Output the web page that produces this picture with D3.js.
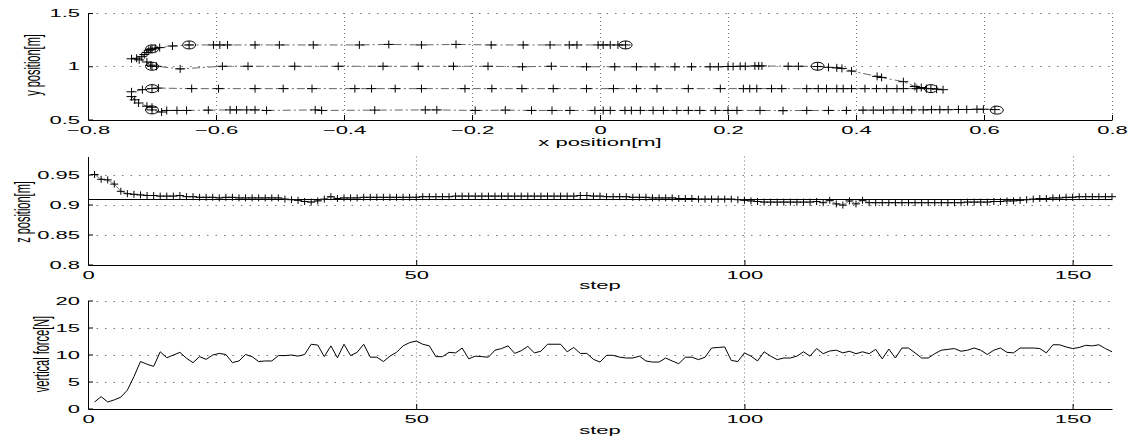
<!DOCTYPE html>
<html>
<head>
<meta charset="UTF-8" />
<style>
  body { margin: 0; background: #fff; }
  svg { display: block; font-family: "Liberation Sans", Arial, sans-serif; }
  .gridx line { stroke: #777; stroke-width: 1px; stroke-dasharray: 1,3; }
  .gridy line { stroke: #777; stroke-width: 1px; stroke-dasharray: 1.5,7; }
  .trail { fill: none; stroke: #666; stroke-width: 1px; stroke-dasharray: 8,3,2,3; }
  .zline { fill: none; stroke: #888; stroke-width: 1px; }
  .zref { stroke: #000; stroke-width: 1px; }
  .fline { fill: none; stroke: #000; stroke-width: 1px; }
  .plus { fill: none; stroke: #000; stroke-width: 1px; }
  .wp { fill: none; stroke: #000; stroke-width: 1px; }
</style>
<script src="https://d3js.org/d3.v7.min.js"></script>
</head>
<body>
<svg width="1133" height="442"></svg>
<script>
// hand path in the horizontal plane (x, y) - one sample per step
var pathX = [
  0.040, 0.028, 0.016, 0.005, -0.003, -0.036, -0.048, -0.078, -0.120, -0.170, -0.225,
  -0.279, -0.330, -0.376, -0.448, -0.501, -0.539, -0.582, -0.594, -0.604, -0.642,
  -0.668, -0.688, -0.695, -0.700, -0.702, -0.705, -0.708, -0.712, -0.716, -0.724,
  -0.732, -0.720, -0.708, -0.702, -0.700,
  -0.693, -0.656, -0.590, -0.550, -0.477, -0.409, -0.339, -0.284, -0.229, -0.175,
  -0.121, -0.076, -0.021, 0.023, 0.057, 0.086, 0.117, 0.143, 0.172, 0.185, 0.200,
  0.208, 0.219, 0.227, 0.242, 0.248, 0.253, 0.294, 0.310, 0.340,
  0.357, 0.370, 0.378, 0.393, 0.433, 0.440, 0.474, 0.492, 0.502, 0.517, 0.526, 0.536,
  0.510, 0.495, 0.474, 0.464, 0.448, 0.432, 0.414, 0.393, 0.380, 0.370, 0.354, 0.341,
  0.323, 0.284, 0.268, 0.245, 0.234, 0.224, 0.188, 0.138, 0.089, 0.057, 0.021,
  -0.021, -0.073, -0.122, -0.169, -0.211, -0.279, -0.320, -0.357, -0.383, -0.450,
  -0.495, -0.539, -0.596, -0.638, -0.690, -0.700,
  -0.715, -0.732, -0.732, -0.727, -0.721, -0.708, -0.700, -0.700,
  -0.685, -0.677, -0.661, -0.646, -0.612, -0.578, -0.568, -0.552, -0.539, -0.521,
  -0.445, -0.435, -0.352, -0.273, -0.255, -0.195, -0.148, -0.107, -0.075, -0.047,
  -0.008, 0.005, 0.016, 0.039, 0.049, 0.063, 0.083, 0.099, 0.120, 0.138, 0.156,
  0.180, 0.200, 0.214, 0.250, 0.286, 0.323, 0.357, 0.385, 0.411, 0.427, 0.443,
  0.458, 0.474, 0.487, 0.505, 0.518, 0.531, 0.544, 0.560, 0.573, 0.589, 0.599, 0.617
];
var pathY = [
  1.200, 1.200, 1.200, 1.200, 1.200, 1.200, 1.200, 1.200, 1.200, 1.200, 1.205,
  1.200, 1.205, 1.200, 1.200, 1.200, 1.200, 1.200, 1.200, 1.200, 1.200,
  1.190, 1.175, 1.170, 1.163, 1.158, 1.150, 1.130, 1.110, 1.090, 1.075,
  1.070, 1.060, 1.040, 1.010, 1.000,
  1.000, 0.975, 1.000, 1.000, 1.000, 1.000, 1.000, 1.000, 1.000, 1.000,
  0.995, 1.000, 0.995, 0.995, 0.995, 0.995, 0.995, 0.995, 0.995, 0.995, 0.998,
  0.998, 1.000, 1.000, 1.003, 1.003, 1.003, 1.000, 1.000, 0.998,
  0.990, 0.985, 0.980, 0.955, 0.905, 0.895, 0.855, 0.810, 0.800, 0.790, 0.785, 0.780,
  0.790, 0.790, 0.790, 0.790, 0.790, 0.790, 0.790, 0.790, 0.790, 0.790, 0.790, 0.790,
  0.790, 0.790, 0.790, 0.790, 0.790, 0.790, 0.790, 0.790, 0.790, 0.790, 0.790,
  0.790, 0.790, 0.790, 0.790, 0.790, 0.790, 0.790, 0.790, 0.790, 0.790,
  0.790, 0.790, 0.790, 0.790, 0.795, 0.790,
  0.780, 0.760, 0.715, 0.685, 0.655, 0.625, 0.615, 0.590,
  0.570, 0.585, 0.585, 0.585, 0.588, 0.590, 0.590, 0.590, 0.590, 0.585,
  0.590, 0.585, 0.588, 0.590, 0.590, 0.585, 0.588, 0.585, 0.585, 0.585,
  0.585, 0.585, 0.585, 0.585, 0.585, 0.585, 0.585, 0.585, 0.585, 0.585, 0.585,
  0.585, 0.585, 0.585, 0.585, 0.583, 0.585, 0.585, 0.585, 0.588, 0.588, 0.588,
  0.590, 0.590, 0.590, 0.590, 0.592, 0.592, 0.592, 0.594, 0.594, 0.596, 0.596, 0.593
];
// via points (circles)
var wayX = [0.040, -0.642, -0.700, -0.700, 0.340, 0.517, -0.700, -0.700, 0.620];
var wayY = [1.200, 1.200, 1.163, 1.000, 1.000, 0.790, 0.790, 0.590, 0.588];

// z position per step (steps 1..156)
var zPos = [
  0.950, 0.942, 0.941, 0.934, 0.922, 0.918, 0.917, 0.916, 0.915, 0.915,
  0.914, 0.914, 0.914, 0.915, 0.913, 0.913, 0.912, 0.912, 0.912, 0.911,
  0.912, 0.912, 0.911, 0.911, 0.911, 0.911, 0.911, 0.911, 0.911, 0.909,
  0.908, 0.907, 0.905, 0.904, 0.906, 0.909, 0.913, 0.910, 0.911, 0.911,
  0.911, 0.912, 0.912, 0.912, 0.912, 0.912, 0.912, 0.912, 0.912, 0.912,
  0.913, 0.913, 0.913, 0.913, 0.913, 0.914, 0.914, 0.914, 0.914, 0.914,
  0.914, 0.914, 0.914, 0.914, 0.914, 0.914, 0.914, 0.914, 0.914, 0.914,
  0.914, 0.914, 0.914, 0.914, 0.915, 0.915, 0.914, 0.914, 0.913, 0.913,
  0.913, 0.913, 0.912, 0.912, 0.912, 0.911, 0.911, 0.911, 0.911, 0.910,
  0.910, 0.910, 0.909, 0.909, 0.909, 0.909, 0.909, 0.909, 0.908, 0.907,
  0.906, 0.905, 0.904, 0.904, 0.904, 0.904, 0.904, 0.904, 0.904, 0.904,
  0.905, 0.903, 0.907, 0.901, 0.899, 0.906, 0.901, 0.907, 0.903, 0.903,
  0.903, 0.903, 0.903, 0.903, 0.903, 0.903, 0.903, 0.903, 0.903, 0.903,
  0.903, 0.903, 0.903, 0.904, 0.904, 0.904, 0.904, 0.905, 0.905, 0.906,
  0.906, 0.907, 0.908, 0.909, 0.910, 0.910, 0.911, 0.911, 0.912, 0.912,
  0.913, 0.913, 0.913, 0.913, 0.913, 0.913
];
var zRef = 0.91;

// vertical force per step (steps 1..156)
var force = [
  1.2, 2.2, 1.2, 1.6, 2.1, 3.4, 5.9, 8.7, 8.2, 7.8,
  10.5, 9.4, 9.9, 10.4, 9.3, 8.5, 9.6, 9.1, 9.9, 10.2,
  10.0, 8.5, 8.8, 10.0, 9.6, 8.7, 8.8, 8.8, 9.8, 9.8,
  9.9, 9.7, 10.0, 11.9, 11.75, 9.6, 11.6, 9.4, 11.9, 9.8,
  10.4, 11.9, 9.5, 9.5, 8.7, 9.7, 10.4, 11.6, 12.2, 12.5,
  11.9, 11.6, 9.6, 9.6, 10.4, 10.3, 11.2, 9.2, 9.7, 9.6,
  9.5, 10.8, 11.1, 11.6, 10.2, 10.7, 11.5, 10.3, 10.6, 11.9,
  11.9, 11.9, 10.5, 11.3, 10.2, 10.2, 9.1, 8.6, 9.85, 9.85,
  9.5, 9.35, 9.35, 9.7, 8.8, 8.6, 8.6, 9.35, 8.8, 8.3,
  9.5, 9.5, 9.05, 9.5, 11.2, 11.3, 11.4, 8.9, 8.7, 10.3,
  9.7, 8.8, 10.5, 9.7, 9.05, 9.35, 9.35, 9.7, 10.5, 9.7,
  11.1, 10.15, 10.65, 10.8, 10.3, 10.6, 10.15, 10.5, 10.15, 10.95,
  9.2, 11.0, 9.35, 11.2, 11.2, 10.3, 9.35, 9.35, 10.15, 10.8,
  10.95, 11.1, 10.6, 10.8, 11.2, 10.8, 10.0, 10.8, 11.2, 10.4,
  10.3, 11.2, 11.2, 11.2, 11.1, 10.3, 11.8, 11.8, 11.4, 11.1,
  11.3, 11.7, 11.6, 11.8, 11.1, 10.5
];

var xTicksTop = [-0.8, -0.6, -0.4, -0.2, 0, 0.2, 0.4, 0.6, 0.8];
var yTicksTop = [0.5, 1, 1.5];
var stepTicks = [0, 50, 100, 150];
var zTicks = [0.8, 0.85, 0.9, 0.95];
var fTicks = [0, 5, 10, 15, 20];

var SX = 2.0; // the figure is stretched horizontally
var fmt = d3.format("~g");
var svg = d3.select("svg");

function panel(x, y, xt, yt) {
  var g = svg.append("g");
  var top = y.range()[1], bot = y.range()[0];
  var left = x.range()[0], right = x.range()[1];

  g.append("g").attr("class", "gridx").selectAll("line")
    .data(xt.filter(function (d) { return d !== x.domain()[0]; }))
    .enter().append("line")
    .attr("x1", function (d) { return Math.round(x(d)) + 0.5; })
    .attr("x2", function (d) { return Math.round(x(d)) + 0.5; })
    .attr("y1", top).attr("y2", bot);
  g.append("g").attr("class", "gridy").selectAll("line")
    .data(yt.filter(function (d) { return d !== y.domain()[0]; }))
    .enter().append("line")
    .attr("x1", left).attr("x2", right)
    .attr("y1", function (d) { return Math.round(y(d)) + 0.5; })
    .attr("y2", function (d) { return Math.round(y(d)) + 0.5; });

  var ax = g.append("g").attr("transform", "translate(0," + Math.round(bot) + ")")
    .call(d3.axisBottom(x).tickValues(xt).tickFormat(fmt)
      .tickSizeInner(-5).tickSizeOuter(0).tickPadding(6));
  var ay = g.append("g").attr("transform", "translate(" + Math.round(left) + ",0)")
    .call(d3.axisLeft(y).tickValues(yt).tickFormat(fmt)
      .tickSizeInner(-5).tickSizeOuter(0).tickPadding(4));
  [ax, ay].forEach(function (a) {
    a.attr("font-family", null).attr("font-size", 11);
    a.select(".domain").attr("stroke", "#000");
    a.selectAll("text").attr("fill", "#000").attr("transform", "scale(" + SX + ",1)");
  });
  ax.selectAll("text").attr("x", 0);
  return g;
}

function plus(g, pts, w, h) {
  g.selectAll(null).data(pts).enter().append("path")
    .attr("class", "plus")
    .attr("d", function (d) {
      return "M" + (d[0] - w) + "," + d[1] + "H" + (d[0] + w) +
        "M" + d[0] + "," + (d[1] - h) + "V" + (d[1] + h);
    });
}

function hLabel(cx, by, txt) {
  svg.append("text").attr("transform", "translate(" + cx + "," + by + ") scale(" + SX + ",1)")
    .attr("text-anchor", "middle").attr("font-size", 11).text(txt);
}
function vLabel(cx, cy, txt) {
  svg.append("text")
    .attr("transform", "translate(" + cx + "," + cy + ") scale(" + SX + ",1) rotate(-90)")
    .attr("text-anchor", "middle").attr("dy", "0.35em").attr("font-size", 11).text(txt);
}

// ---- top: x-y path
var x1 = d3.scaleLinear().domain([-0.8, 0.8]).range([88, 1112]);
var y1 = d3.scaleLinear().domain([0.5, 1.5]).range([119.5, 13]);
var g1 = panel(x1, y1, xTicksTop, yTicksTop);
var pts1 = pathX.map(function (v, i) { return [x1(v), y1(pathY[i])]; });
g1.append("path").attr("class", "trail").attr("d", d3.line()(pts1));
plus(g1, pts1, 5, 4);
g1.selectAll(null).data(wayX).enter().append("ellipse")
  .attr("class", "wp")
  .attr("cx", function (d) { return x1(d); })
  .attr("cy", function (d, i) { return y1(wayY[i]); })
  .attr("rx", 6.5).attr("ry", 4);
hLabel(600, 146, "x position[m]");
vLabel(32, 65, "y position[m]");

// ---- middle: z position
var steps = zPos.map(function (d, i) { return i + 1; });
var x2 = d3.scaleLinear().domain([0, 156]).range([88, 1112]);
var y2 = d3.scaleLinear().domain([0.8, 0.98]).range([264.5, 156.5]);
var g2 = panel(x2, y2, stepTicks, zTicks);
g2.append("line").attr("class", "zref")
  .attr("x1", x2(0)).attr("x2", x2(156))
  .attr("y1", Math.round(y2(zRef)) + 0.5).attr("y2", Math.round(y2(zRef)) + 0.5);
var pts2 = zPos.map(function (v, i) { return [x2(steps[i]), y2(v)]; });
g2.append("path").attr("class", "zline").attr("d", d3.line()(pts2));
plus(g2, pts2, 4, 3.5);
hLabel(600, 289, "step");
vLabel(22, 212, "z position[m]");

// ---- bottom: vertical force
var x3 = d3.scaleLinear().domain([0, 156]).range([88, 1112]);
var y3 = d3.scaleLinear().domain([0, 20]).range([408.5, 300.5]);
var g3 = panel(x3, y3, stepTicks, fTicks);
g3.append("path").attr("class", "fline")
  .attr("d", d3.line().x(function (d, i) { return x3(steps[i]); }).y(function (d) { return y3(d); })(force));
hLabel(600, 434, "step");
vLabel(41, 354, "vertical force[N]");
</script>
</body>
</html>
